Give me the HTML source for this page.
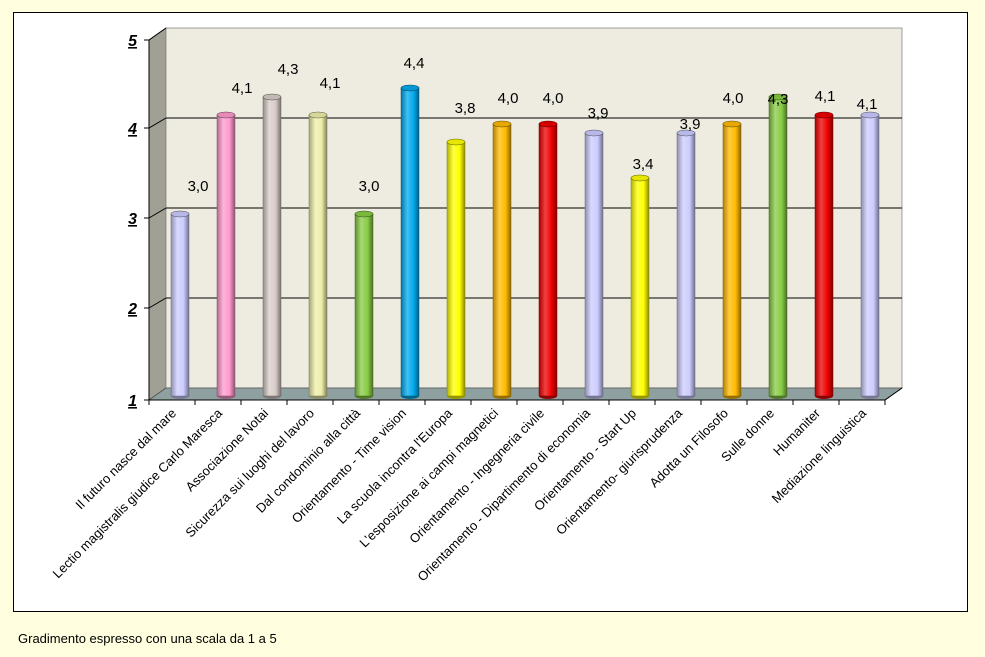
<!DOCTYPE html>
<html><head><meta charset="utf-8"><style>
body{margin:0;background:#ffffe0;width:985px;height:657px;overflow:hidden;font-family:"Liberation Sans",Arial,sans-serif}
</style></head><body>
<svg width="985" height="657" xmlns="http://www.w3.org/2000/svg" style="position:absolute;left:0;top:0" font-family="Liberation Sans, Arial, sans-serif">
<rect x="13.5" y="12.5" width="954" height="599" fill="#ffffff" stroke="#000" stroke-width="1"/>
<polygon points="149,40 166,28 166,388 149,400" fill="#a0a094" stroke="#555" stroke-width="0.8"/>
<rect x="166" y="28" width="736" height="360" fill="#eeece0" stroke="#888" stroke-width="0.8"/>
<polygon points="149,400 166,388 902,388 885,400" fill="#8fa0a0" stroke="#555" stroke-width="0.8"/>
<g stroke="#000" stroke-width="1">
<line x1="166" y1="118" x2="902" y2="118"/><line x1="166" y1="208" x2="902" y2="208"/><line x1="166" y1="298" x2="902" y2="298"/>
<line x1="149" y1="128" x2="166" y2="118"/><line x1="149" y1="218" x2="166" y2="208"/><line x1="149" y1="308" x2="166" y2="298"/><line x1="149" y1="40" x2="166" y2="28"/>
<line x1="149" y1="40" x2="149" y2="400"/><line x1="149" y1="400" x2="885" y2="400"/><line x1="885" y1="400" x2="902" y2="388"/>
<line x1="144" y1="40" x2="149" y2="40"/><line x1="144" y1="128" x2="149" y2="128"/><line x1="144" y1="218" x2="149" y2="218"/><line x1="144" y1="308" x2="149" y2="308"/><line x1="144" y1="400" x2="149" y2="400"/>
</g>
<g font-size="16" font-weight="bold" font-style="italic" text-decoration="underline" text-anchor="end">
<text x="137" y="46">5</text><text x="137" y="134">4</text><text x="137" y="224">3</text><text x="137" y="314">2</text><text x="137" y="406">1</text>
</g>
<defs id="defs"></defs>
<g id="ticks" stroke="#000"></g>
<g id="bars"></g>
<g id="labels" font-size="13" fill="#000"></g>
<g id="vals" font-size="15" text-anchor="middle" fill="#000"></g>
<text x="18" y="643" font-size="13">Gradimento espresso con una scala da 1 a 5</text>
</svg>
<script>
(function(){
var NS="http://www.w3.org/2000/svg";
var names=["Il futuro nasce dal mare","Lectio magistralis giudice Carlo Maresca","Associazione Notai","Sicurezza sui luoghi del lavoro","Dal condominio alla città","Orientamento - Time vision","La scuola incontra l'Europa","L'esposizione ai campi magnetici","Orientamento - Ingegneria civile","Orientamento - Dipartimento di economia","Orientamento - Start Up","Orientamento- giurisprudenza","Adotta un Filosofo","Sulle donne","Humaniter","Mediazione linguistica"];
var vals=[3.0,4.1,4.3,4.1,3.0,4.4,3.8,4.0,4.0,3.9,3.4,3.9,4.0,4.3,4.1,4.1];
var cols=["#ccccff","#ff99cc","#d8ccc8","#eeeeaa","#88cc44","#00aaee","#ffff00","#ffbb00","#ee0000","#ccccff","#ffff00","#ccccff","#ffbb00","#88cc44","#ee0000","#ccccff"];
var lp=[[198,191],[242,93],[288,74],[330,88],[369,191],[414,68],[465,113],[508,103],[553,103],[598,118],[643,169],[690,129],[733,103],[778,104],[825,101],[867,109]];
var defs=document.getElementById("defs"),bars=document.getElementById("bars"),labs=document.getElementById("labels"),vg=document.getElementById("vals"),tk=document.getElementById("ticks");
function el(t,a,p){var e=document.createElementNS(NS,t);for(var k in a)e.setAttribute(k,a[k]);p.appendChild(e);return e;}
function shade(c,f){var n=parseInt(c.slice(1),16),r=n>>16,g=(n>>8)&255,b=n&255;function s(v){return Math.max(0,Math.min(255,Math.round(f<0?v*(1+f):v+(255-v)*f)));}return "rgb("+s(r)+","+s(g)+","+s(b)+")";}
for(var i=0;i<16;i++){
 var cx=180+46*i, ty=394-(vals[i]-1)*90, w=18, bot=396;
 var tx=149+46*i; el("line",{x1:tx,y1:400,x2:tx,y2:405},tk);
 var g=el("linearGradient",{id:"g"+i,x1:"0",x2:"1",y1:"0",y2:"0"},defs);
 el("stop",{offset:"0","stop-color":shade(cols[i],-0.3)},g);
 el("stop",{offset:"0.35","stop-color":shade(cols[i],0.25)},g);
 el("stop",{offset:"0.7","stop-color":cols[i]},g);
 el("stop",{offset:"1","stop-color":shade(cols[i],-0.45)},g);
 el("ellipse",{cx:cx,cy:bot,rx:w/2,ry:3,fill:shade(cols[i],-0.4)},bars);
 el("rect",{x:cx-w/2,y:ty,width:w,height:bot-ty,fill:"url(#g"+i+")",stroke:shade(cols[i],-0.5),"stroke-width":0.5},bars);
 el("ellipse",{cx:cx,cy:ty,rx:w/2,ry:3,fill:shade(cols[i],-0.1),stroke:shade(cols[i],-0.6),"stroke-width":0.6},bars);
 var t=el("text",{x:0,y:0,"text-anchor":"end",transform:"translate("+(cx-3)+",414) rotate(-45)"},labs);t.textContent=names[i];
 var v=el("text",{x:lp[i][0],y:lp[i][1]},vg);v.textContent=vals[i].toFixed(1).replace(".",",");
}
el("line",{x1:885,y1:400,x2:885,y2:405},tk);
})();
</script>
</body></html>
